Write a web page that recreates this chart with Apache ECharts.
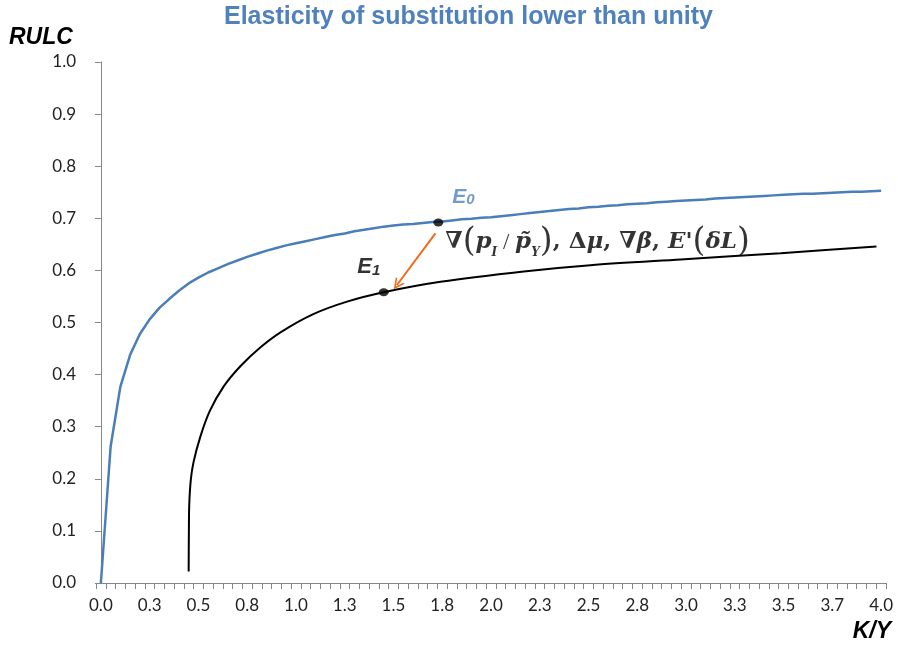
<!DOCTYPE html>
<html>
<head>
<meta charset="utf-8">
<script src="https://cdn.jsdelivr.net/npm/echarts@6/dist/echarts.min.js"></script>
<style>
html,body{margin:0;padding:0;background:#fff;}
#chart{width:898px;height:650px;}
</style>
</head>
<body>
<div id="chart"></div>
<script>
// ---- data ----
const titleText = 'Elasticity of substitution lower than unity';
const xTickLabels = ['0.0','0.3','0.5','0.8','1.0','1.3','1.5','1.8','2.0','2.3','2.5','2.8','3.0','3.3','3.5','3.7','4.0'];
const xLabelValues = [0,0.25,0.5,0.75,1,1.25,1.5,1.75,2,2.25,2.5,2.75,3,3.25,3.5,3.75,4];
const yTickValues = [0,0.1,0.2,0.3,0.4,0.5,0.6,0.7,0.8,0.9,1.0];

// K/Y categories (0.05 steps)
const kyCategories = Array.from({length:81},(_,i)=>+(i*0.05).toFixed(2));
// Upper (blue) curve, RULC at each category
const blueValues = [
0.000,0.262,0.377,0.438,0.478,0.506,0.528,0.545,0.561,0.575,
0.586,0.596,0.604,0.612,0.619,0.626,0.632,0.638,0.643,0.648,
0.652,0.656,0.660,0.664,0.668,0.671,0.675,0.678,0.681,0.684,
0.686,0.688,0.689,0.691,0.693,0.694,0.696,0.698,0.699,0.701,
0.702,0.704,0.706,0.708,0.710,0.712,0.714,0.716,0.718,0.719,
0.721,0.722,0.724,0.725,0.727,0.728,0.729,0.731,0.732,0.733,
0.734,0.735,0.736,0.738,0.739,0.740,0.741,0.742,0.743,0.744,
0.745,0.746,0.747,0.747,0.748,0.749,0.750,0.751,0.751,0.752,
0.753];
// Lower (black) curve, read points
const blackX = [0.450,0.451,0.453,0.461,0.475,0.510,0.558,0.629,0.715,0.817,0.925,1.089,1.262,1.450,1.741,2.168,2.510,2.972,3.485,3.976];
const blackY = [0.022,0.090,0.150,0.198,0.232,0.281,0.330,0.377,0.416,0.452,0.482,0.516,0.540,0.558,0.578,0.598,0.610,0.621,0.633,0.646];
// Equilibria
const E0 = [1.73, 0.692];
const E1 = [1.45, 0.558];
// Arrow from E0 towards E1
const arrowFrom = [1.715, 0.671];
const arrowTo = [1.518, 0.572];

// axis tick boundaries between categories
const xTickBounds = [];
for (let i = 0; i <= 81; i++) xTickBounds.push(+(-0.025 + i*0.05).toFixed(3));

const blueData = kyCategories.map((x,i)=>[x, blueValues[i]]);
const blackData = blackX.map((x,i)=>[x, blackY[i]]);

const axisGrey = '#868686';
const labelFont = 'Lato, Open Sans, sans-serif';
const chart = echarts.init(document.getElementById('chart'));
chart.setOption({
  animation: false,
  backgroundColor: '#fff',
  title: {
    text: titleText, left: 219, top: 0,
    textStyle: {color:'#4f81bd', fontFamily:'Liberation Sans, Arial', fontWeight:'bold', fontSize:25}
  },
  grid: {left: 96, right: 12, top: 62, bottom: 67},
  xAxis: {
    type: 'value', min: -0.025, max: 4.025,
    splitLine: {show:false},
    axisLine: {show:true, onZero:false, lineStyle:{color:axisGrey, width:1}},
    axisTick: {show:true, customValues: xTickBounds, length: 6, lineStyle:{color:axisGrey}},
    axisLabel: {
      customValues: xLabelValues, margin: 14,
      fontFamily: labelFont, fontSize: 17, color: '#222',
      formatter: v => { const k = xLabelValues.findIndex(t => Math.abs(t - v) < 1e-6); return k >= 0 ? xTickLabels[k] : ''; }
    }
  },
  yAxis: {
    type: 'value', min: 0, max: 1, interval: 0.1,
    splitLine: {show:false},
    axisLine: {show:true, lineStyle:{color:axisGrey, width:1}},
    axisTick: {show:true, length: 6, lineStyle:{color:axisGrey}},
    axisLabel: {margin: 20, fontFamily:labelFont, fontSize:17, color:'#222',
      formatter: v => { const k = yTickValues.findIndex(t => Math.abs(t - v) < 1e-6); return k >= 0 ? yTickValues[k].toFixed(1) : ''; }}
  },
  graphic: [
    {type:'text', left: 9, top: 26, style:{text:'RULC', font:'italic bold 23px "Liberation Sans", Arial', fill:'#000'}},
    {type:'text', right: 7, top: 620, style:{text:'K/Y', font:'italic bold 23px "Liberation Sans", Arial', fill:'#000'}}
  ],
  series: [
    {
      name: 'Upper', type: 'line', data: blueData, showSymbol: false, smooth: false,
      lineStyle: {color:'#4a7ebb', width: 2.5}, z: 2
    },
    {
      name: 'Lower', type: 'line', data: blackData, showSymbol: false, smooth: 0.3,
      lineStyle: {color:'#000', width: 2}, z: 2
    },
    {
      name: 'Arrow', type: 'lines', coordinateSystem: 'cartesian2d', polyline: false,
      symbol: ['none', 'path://M5,0 L10,10 L8.4,10 L5,3.2 L1.6,10 L0,10 Z'], symbolSize: 11,
      lineStyle: {color:'#f26a1b', width: 2, opacity: 1, curveness: 0},
      data: [{coords: [arrowFrom, arrowTo]}], z: 3
    },
    {
      name: 'Points', type: 'scatter', symbol: 'circle', symbolSize: [10, 8],
      itemStyle: {color:'#000'}, z: 4,
      data: [
        {value: E0, label: {show:true, position:'top', offset:[25,-6],
          formatter:'{e|E}{s|0}', rich:{
            e:{fontFamily:'Liberation Sans, Arial', fontStyle:'italic', fontWeight:'bold', fontSize:21, color:'#4f81bd'},
            s:{fontFamily:'Liberation Sans, Arial', fontStyle:'italic', fontWeight:'bold', fontSize:15, color:'#4f81bd', verticalAlign:'bottom', padding:[5,0,0,0]}
          }}},
        {value: E1, label: {show:true, position:'top', offset:[-15,-5],
          formatter:'{e|E}{s|1}', rich:{
            e:{fontFamily:'Liberation Sans, Arial', fontStyle:'italic', fontWeight:'bold', fontSize:22, color:'#000'},
            s:{fontFamily:'Liberation Sans, Arial', fontStyle:'italic', fontWeight:'bold', fontSize:15, color:'#000', verticalAlign:'bottom', padding:[5,0,0,0]}
          }}}
      ]
    },
    {
      name: 'Formula', type: 'scatter', symbolSize: 0, silent: true, z: 5,
      data: [{value: E0, label: {show:true, position:'right', offset:[2,20],
        formatter: '{n|∇}{p|(}{i|p}{sub|I}{sl| / }{i|p̃}{sub|Y}{p|)}{n|, Δ}{i|μ}{n|, ∇}{i|β}{n|, }{i|E}{n|\'}{p|(}{i|δL}{p|)}',
        rich: {
          n:{fontFamily:'DejaVu Serif, Liberation Serif', fontWeight:'bold', fontSize:23, color:'#000'},
          i:{fontFamily:'DejaVu Serif, Liberation Serif', fontWeight:'bold', fontStyle:'italic', fontSize:23, color:'#000'},
          sl:{fontFamily:'Liberation Serif', fontSize:23, color:'#000'},
          p:{fontFamily:'DejaVu Serif, Liberation Serif', fontSize:33, color:'#000'},
          sub:{fontFamily:'DejaVu Serif, Liberation Serif', fontWeight:'bold', fontStyle:'italic', fontSize:12, color:'#000', verticalAlign:'bottom', padding:[11,0,0,0]}
        }}}]
    }
  ]
});
</script>
</body>
</html>
